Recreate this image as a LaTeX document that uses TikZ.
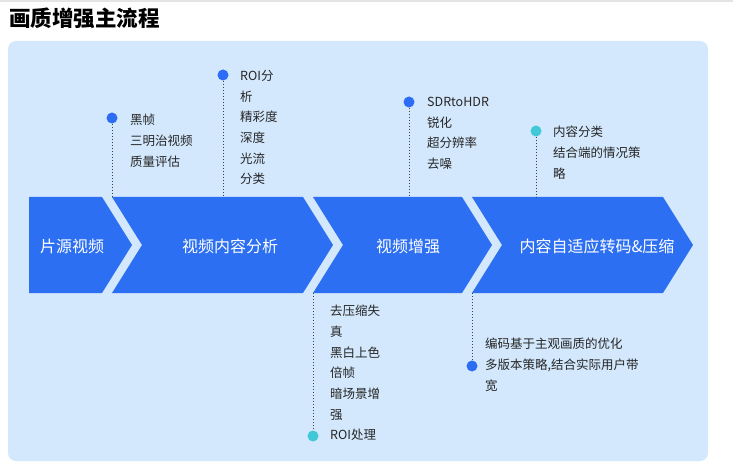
\documentclass[tikz,border=0pt]{standalone}
\usepackage{fontspec}
\setmainfont{Noto Sans CJK SC}
\definecolor{PanelBlue}{RGB}{211,232,253}
\definecolor{StepBlue}{RGB}{44,111,242}
\definecolor{DotBlue}{RGB}{45,108,245}
\definecolor{DotCyan}{RGB}{64,200,216}
\definecolor{TopGray}{RGB}{228,228,228}
\usetikzlibrary{positioning, calc}

\begin{document}
\begin{tikzpicture}[x=1pt, y=-1pt,
    chevron/.style={fill=StepBlue},
    steplabel/.style={text=white, font=\fontsize{16}{16}\selectfont, inner sep=0pt},
    note/.style={align=left, anchor=north west, inner sep=0pt,
                 font=\fontsize{12.5}{20.7}\selectfont, text=black!85},
    dotblue/.style={circle, fill=DotBlue, minimum size=11pt, inner sep=0pt},
    dotcyan/.style={circle, fill=DotCyan, minimum size=11pt, inner sep=0pt},
    stem/.style={draw=black!75, line width=1pt, dash pattern=on 1pt off 2pt}]
  \useasboundingbox (0,0) rectangle (733,473);
  \fill[white] (0,0) rectangle (733,473);
  \fill[TopGray] (0,0) rectangle (733,2);

  % title and panel
  \node[anchor=west, inner sep=0pt, font=\fontsize{21.5}{21.5}\selectfont\bfseries]
    (title) at (9,18) {画质增强主流程};
  \fill[PanelBlue, rounded corners=8pt] (8,41) rectangle (708,461);

  % the four steps
  \fill[chevron] (29,197) -- (102,197) -- (132,245) -- (102,293) -- (29,293) -- cycle;
  \fill[chevron] (112,197) -- (303,197) -- (333,245) -- (303,293) -- (112,293) -- (142,245) -- cycle;
  \fill[chevron] (313,197) -- (462,197) -- (492,245) -- (462,293) -- (313,293) -- (343,245) -- cycle;
  \fill[chevron] (472,197) -- (663,197) -- (693,245) -- (663,293) -- (472,293) -- (502,245) -- cycle;

  \node[steplabel] (source)  at (72,246)  {片源视频};
  \node[steplabel] (analyse) at (230,246) {视频内容分析};
  \node[steplabel] (enhance) at (408,246) {视频增强};
  \node[steplabel] (encode)  at (597,246) {内容自适应转码\&压缩};

  % notes above
  \node[dotblue] (d1) at (112,118) {};
  \coordinate (c1) at (112,197);
  \node[note] (n1) at (130,114) {黑帧\\三明治视频\\质量评估};
  \draw[stem] (d1) -- (c1);

  \node[dotblue] (d2) at (223,75) {};
  \coordinate (c2) at (223,197);
  \node[note] (n2) at (240,70) {ROI分\\析\\精彩度\\深度\\光流\\分类};
  \draw[stem] (d2) -- (c2);

  \node[dotblue] (d3) at (409,102) {};
  \coordinate (c3) at (409,197);
  \node[note] (n3) at (427,97) {SDRtoHDR\\锐化\\超分辨率\\去噪};
  \draw[stem] (d3) -- (c3);

  \node[dotcyan] (d4) at (536,131) {};
  \coordinate (c4) at (536,197);
  \node[note] (n4) at (553,126) {内容分类\\结合端的情况策\\略};
  \draw[stem] (d4) -- (c4);

  % notes below
  \coordinate (c5) at (313,293);
  \node[dotcyan] (d5) at (313,436) {};
  \node[note] (n5) at (330,305) {去压缩失\\真\\黑白上色\\倍帧\\暗场景增\\强\\ROI处理};
  \draw[stem] (c5) -- (d5);

  \coordinate (c6) at (472,293);
  \node[dotblue] (d6) at (472,366) {};
  \node[note] (n6) at (485,338) {编码基于主观画质的优化\\多版本策略,结合实际用户带\\宽};
  \draw[stem] (c6) -- (d6);
\end{tikzpicture}
\end{document}
